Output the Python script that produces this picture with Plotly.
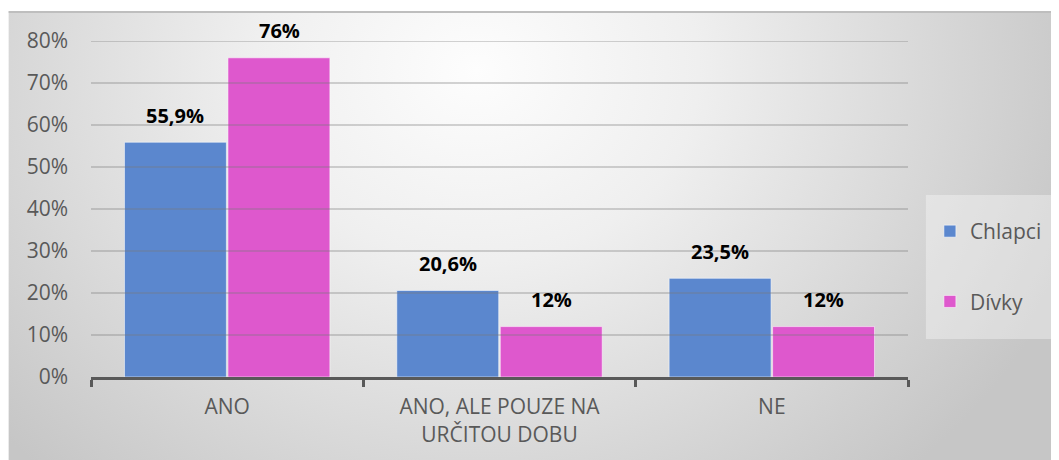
import base64
import plotly.graph_objects as go

categories = ["ANO", "ANO, ALE POUZE NA<br>URČITOU DOBU", "NE"]
chlapci = [55.9, 20.6, 23.5]
divky = [76, 12, 12]
series_names = ["Chlapci", "Dívky"]
y_ticks = [0, 10, 20, 30, 40, 50, 60, 70, 80]
y_tick_labels = ["0%", "10%", "20%", "30%", "40%", "50%", "60%", "70%", "80%"]

BLUE = "#5B87CE"
PINK = "#DE58CD"
FONT = "Open Sans"

def fmt(v):
    s = ("%.1f" % v).rstrip("0").rstrip(".")
    return s.replace(".", ",") + "%"

# page has an 8px body margin; geometry below in figure pixels
OFF = 8
W, H = 1059 - OFF, 460 - OFF
L, R, T, B = 91 - OFF, 912 - OFF, 41 - OFF, 377 - OFF
pw, ph = R - L, B - T

def px(x):  # screen x -> paper
    return (x - OFF - L) / pw

def py(y):  # screen y -> paper
    return (B - (y - OFF)) / ph

svg = """<svg xmlns='http://www.w3.org/2000/svg' width='1051' height='449' viewBox='0 0 1051 449' preserveAspectRatio='none'>
<defs><radialGradient id='g' gradientUnits='userSpaceOnUse' cx='470' cy='60' r='640' gradientTransform='translate(470 60) scale(1 0.85) translate(-470 -60)'>
<stop offset='0' stop-color='#FDFDFD'/><stop offset='0.35' stop-color='#EFEFEF'/><stop offset='1' stop-color='#C6C6C6'/></radialGradient></defs>
<rect x='0' y='0' width='1051' height='449' fill='url(#g)'/>
<rect x='0' y='0' width='1051' height='2' fill='#BEBEBE'/>
</svg>"""
src = "data:image/svg+xml;base64," + base64.b64encode(svg.encode()).decode()

fig = go.Figure()
for name, vals, col in [(series_names[0], chlapci, BLUE), (series_names[1], divky, PINK)]:
    fig.add_trace(go.Bar(
        x=categories, y=vals, name=name, legendgroup=name,
        marker=dict(color=col, line=dict(color="rgba(255,255,255,0.55)", width=1)),
    ))

# data labels
ann = []
for vals, sh in [(chlapci, -52), (divky, 52)]:
    for c, v in zip(categories, vals):
        ann.append(dict(x=c, y=v, xref="x", yref="y", text="<b>" + fmt(v) + "</b>",
                        showarrow=False, xshift=sh, yshift=27,
                        font=dict(family=FONT, size=20, color="#000000")))

# gridlines above bars
shapes = []
for t in y_ticks[1:]:
    shapes.append(dict(type="line", xref="paper", yref="y", x0=0, x1=1, y0=t, y1=t,
                       line=dict(color="rgba(120,120,120,0.32)", width=2), layer="above"))
# legend panel
shapes.append(dict(type="rect", xref="paper", yref="paper",
                   x0=px(930), x1=px(1060), y0=py(339), y1=py(195),
                   fillcolor="rgba(255,255,255,0.35)", line=dict(width=0), layer="below"))

fig.update_layout(
    width=W, height=H,
    margin=dict(l=L, r=W - R, t=T, b=H - B, pad=0),
    paper_bgcolor="white", plot_bgcolor="rgba(0,0,0,0)",
    barmode="group", bargap=0.24, bargroupgap=0.015,
    font=dict(family=FONT, size=21, color="#595959"),
    images=[dict(source=src, xref="paper", yref="paper",
                 x=px(OFF), y=py(11),
                 sizex=W / pw, sizey=(H - (11 - OFF)) / ph,
                 sizing="stretch", xanchor="left", yanchor="top", layer="below")],
    xaxis=dict(showline=True, linecolor="#595959", linewidth=3,
               ticks="outside", tickson="boundaries", ticklen=7, tickwidth=3, tickcolor="#595959",
               showgrid=False, ticklabelstandoff=9, tickfont=dict(size=21, color="#595959")),
    yaxis=dict(range=[0, 80], tickvals=y_ticks, ticktext=y_tick_labels, showgrid=False,
               zeroline=False, showline=False, ticks="", ticklabelstandoff=22,
               tickfont=dict(size=21, color="#595959")),
    legend=dict(x=px(934), y=py(211), xanchor="left", yanchor="top",
                bgcolor="rgba(0,0,0,0)", borderwidth=0,
                font=dict(family=FONT, size=21, color="#595959"),
                tracegroupgap=40, itemwidth=30),
    annotations=ann, shapes=shapes,
)

fig.write_html("out.html")
